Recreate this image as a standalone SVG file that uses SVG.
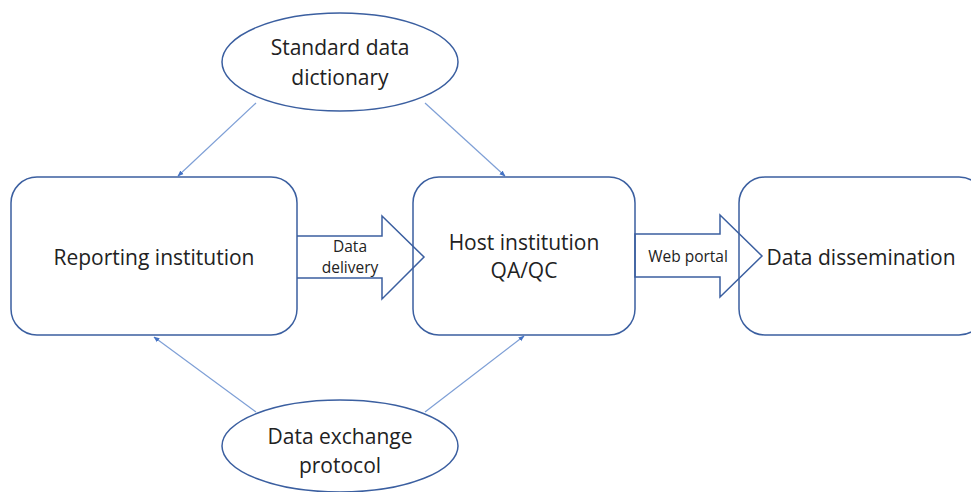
<svg xmlns="http://www.w3.org/2000/svg" width="971" height="492" viewBox="0 0 971 492">
<defs>
<style>
.box{fill:#fff;stroke:#3B5FA0;stroke-width:1.5}
.blk{fill:none;stroke:#3B5FA0;stroke-width:1.5;stroke-linejoin:miter}
.con{stroke:#7E9FD6;stroke-width:1.2;fill:none}
.t{font-family:"Open Sans","Liberation Sans",sans-serif;font-size:21px;fill:#222;text-anchor:middle}
.s{font-family:"Open Sans","Liberation Sans",sans-serif;font-size:15.5px;fill:#222;text-anchor:middle}
</style>
<marker id="ah" viewBox="0 0 10 10" refX="9" refY="5" markerWidth="6" markerHeight="6" orient="auto" markerUnits="userSpaceOnUse">
<path d="M0,1 L10,5 L0,9 z" fill="#4472C4"/>
</marker>
</defs>
<rect width="971" height="492" fill="#fff"/>
<g id="connectors">
<line class="con" x1="256" y1="103" x2="178" y2="176" marker-end="url(#ah)"/>
<line class="con" x1="425" y1="103" x2="505" y2="176" marker-end="url(#ah)"/>
<line class="con" x1="256" y1="412" x2="154" y2="337" marker-end="url(#ah)"/>
<line class="con" x1="425" y1="412" x2="524" y2="336" marker-end="url(#ah)"/>
</g>
<g id="reporting">
<rect class="box" x="11" y="177" width="286" height="158" rx="26"/>
<text class="t" x="154" y="265">Reporting institution</text>
</g>
<g id="host">
<rect class="box" x="413" y="177" width="222" height="158" rx="26"/>
<text class="t" x="524" y="250">Host institution</text>
<text class="t" x="524" y="278">QA/QC</text>
</g>
<g id="dissemination">
<rect class="box" x="739" y="177" width="246" height="158" rx="26"/>
<text class="t" x="861" y="265">Data dissemination</text>
</g>
<g id="data-delivery">
<path class="blk" d="M297,236 H382 V216 L424,257 L382,299 V278 H297"/>
<text class="s" x="350" y="252">Data</text>
<text class="s" x="350" y="273">delivery</text>
</g>
<g id="web-portal">
<path class="blk" d="M635,234 H720 V215 L762,256 L720,297 V277 H635 Z"/>
<text class="s" x="688" y="262">Web portal</text>
</g>
<g id="dictionary">
<ellipse class="box" cx="340" cy="62" rx="118" ry="49"/>
<text class="t" x="340" y="55">Standard data</text>
<text class="t" x="340" y="85">dictionary</text>
</g>
<g id="protocol">
<ellipse class="box" cx="340" cy="446" rx="118" ry="46"/>
<text class="t" x="340" y="444">Data exchange</text>
<text class="t" x="340" y="473">protocol</text>
</g>
</svg>
